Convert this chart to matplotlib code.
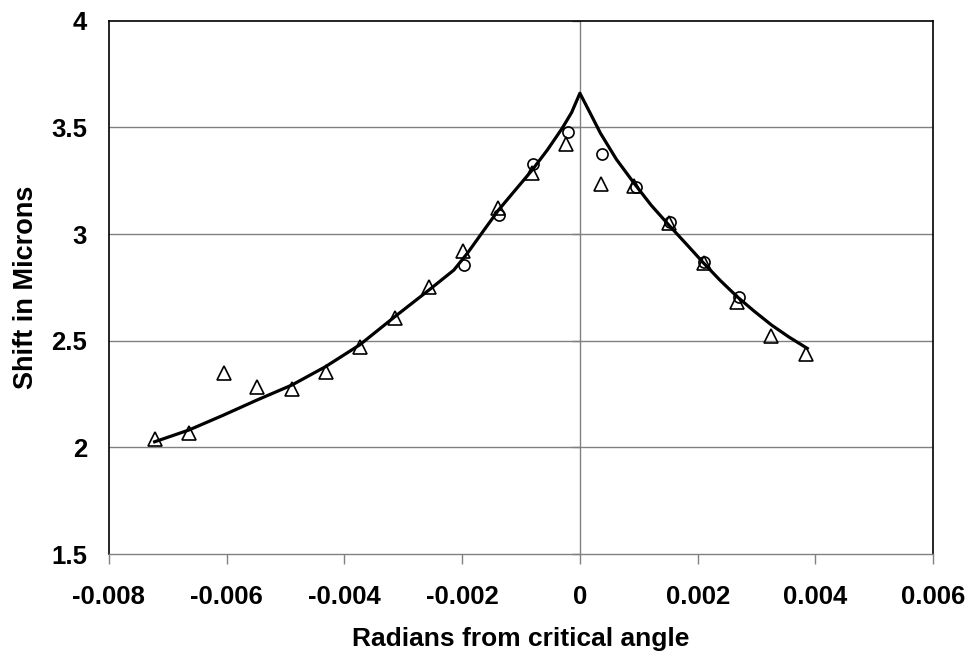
import matplotlib
matplotlib.use("Agg")
import matplotlib.pyplot as plt

# Triangle series
tri_x = [-0.00722, -0.00664, -0.00605, -0.00548, -0.00489, -0.00431, -0.00374,
         -0.00314, -0.00256, -0.00198, -0.00139, -0.00081, -0.00023, 0.00036,
         0.00092, 0.00151, 0.00210, 0.00267, 0.00325, 0.00384]
tri_y = [2.038, 2.065, 2.347, 2.281, 2.274, 2.351, 2.472, 2.605, 2.753, 2.922,
         3.121, 3.285, 3.422, 3.235, 3.223, 3.053, 2.866, 2.683, 2.523, 2.438]

# Circle series
circ_x = [-0.00196, -0.00137, -0.00079, -0.00021, 0.00037, 0.00096, 0.00153,
          0.00211, 0.00270]
circ_y = [2.855, 3.089, 3.327, 3.480, 3.375, 3.219, 3.055, 2.870, 2.706]

# Fitted curve
fit_x = [-0.00722, -0.00664, -0.00606, -0.00548, -0.00489, -0.00432, -0.00374,
         -0.00314, -0.00256, -0.00214, -0.00191, -0.00165, -0.00138, -0.00110,
         -0.00081, -0.00055, -0.00030, -0.00014, 0.0,
         0.00015, 0.00035, 0.00062, 0.00092, 0.00121, 0.00151, 0.00181,
         0.00210, 0.00238, 0.00267, 0.00296, 0.00325, 0.00355, 0.00386]
fit_y = [2.026, 2.081, 2.150, 2.222, 2.292, 2.378, 2.480, 2.613, 2.738, 2.831,
         2.910, 3.010, 3.113, 3.205, 3.300, 3.395, 3.496, 3.570, 3.660,
         3.580, 3.472, 3.350, 3.238, 3.135, 3.042, 2.952, 2.864, 2.783,
         2.706, 2.638, 2.574, 2.517, 2.464]

x_ticks = [-0.008, -0.006, -0.004, -0.002, 0, 0.002, 0.004, 0.006]
x_tick_labels = ["-0.008", "-0.006", "-0.004", "-0.002", "0", "0.002", "0.004", "0.006"]
y_ticks = [1.5, 2, 2.5, 3, 3.5, 4]
y_tick_labels = ["1.5", "2", "2.5", "3", "3.5", "4"]

plt.rcParams['font.family'] = ['Liberation Sans', 'DejaVu Sans']

fig = plt.figure(figsize=(9.7, 6.55), dpi=100)
ax = fig.add_axes([108.7 / 970, 1 - 554 / 655, (933.3 - 108.7) / 970, (554 - 20.7) / 655])

ax.set_xlim(-0.008, 0.006)
ax.set_ylim(1.5, 4)

grid_c = "#808080"
for yv in y_ticks[1:-1]:
    ax.axhline(yv, color=grid_c, lw=1.0, zorder=1)
ax.axvline(0, color=grid_c, lw=1.0, zorder=1)
# small tick marks on the vertical axis at x = 0
ax.plot([0] * len(y_ticks), y_ticks, linestyle="none", marker=0, markersize=6,
        color=grid_c, markeredgewidth=1.0, zorder=1, clip_on=False)

ax.plot(tri_x, tri_y, linestyle="none", marker="^", markersize=10,
        markerfacecolor="none", markeredgecolor="black", markeredgewidth=1.2, zorder=3)
ax.plot(circ_x, circ_y, linestyle="none", marker="o", markersize=8,
        markerfacecolor="none", markeredgecolor="black", markeredgewidth=1.2, zorder=3)
ax.plot(fit_x, fit_y, color="black", lw=2.3, zorder=4, solid_joinstyle="round")

ax.set_xticks(x_ticks)
ax.set_xticklabels(x_tick_labels)
ax.set_yticks(y_ticks)
ax.set_yticklabels(y_tick_labels)
ax.tick_params(axis="x", direction="out", length=7, width=1, color=grid_c,
               labelsize=18.5, pad=15)
ax.tick_params(axis="y", length=0, labelsize=18.5, pad=15.5)
for lab in ax.get_xticklabels() + ax.get_yticklabels():
    lab.set_fontweight("bold")

for side in ["top", "right", "left"]:
    ax.spines[side].set_color("black")
    ax.spines[side].set_linewidth(1.2)
ax.spines["bottom"].set_color(grid_c)
ax.spines["bottom"].set_linewidth(1.0)

ax.set_xlabel("Radians from critical angle", fontsize=19, fontweight="bold", labelpad=13)
ax.set_ylabel("Shift in Microns", fontsize=19.5, fontweight="bold", labelpad=9)

fig.savefig("out.png", dpi=100, facecolor="white")
